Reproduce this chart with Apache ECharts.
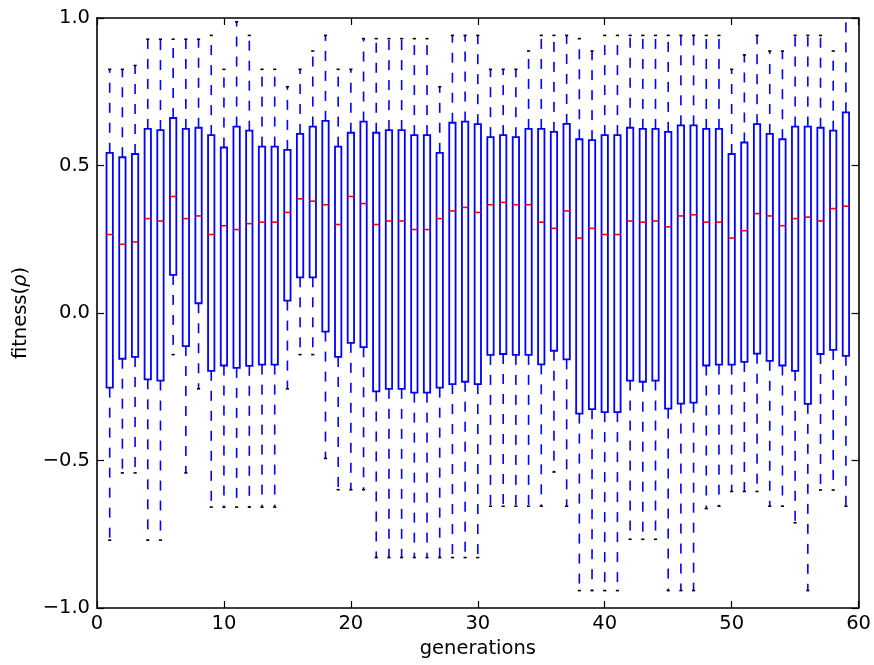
<!DOCTYPE html>
<html>
<head>
<meta charset="utf-8">
<script src="https://cdn.jsdelivr.net/npm/echarts@6/dist/echarts.min.js"></script>
<style>
  html, body { margin: 0; padding: 0; background: #ffffff; }
  #chart { width: 874px; height: 665px; }
</style>
</head>
<body>
<div id="chart"></div>
<script>
// Fitness distribution per generation: whisker ends, quartiles and median.
const generations = [
  1, 2, 3, 4, 5, 6, 7, 8, 9, 10,
  11, 12, 13, 14, 15, 16, 17, 18, 19, 20,
  21, 22, 23, 24, 25, 26, 27, 28, 29, 30,
  31, 32, 33, 34, 35, 36, 37, 38, 39, 40,
  41, 42, 43, 44, 45, 46, 47, 48, 49, 50,
  51, 52, 53, 54, 55, 56, 57, 58, 59
];
const whiskerHigh = [
  0.826, 0.826, 0.839, 0.928, 0.928, 0.928, 0.928, 0.928, 0.941, 0.826,
  0.987, 0.941, 0.826, 0.826, 0.767, 0.826, 0.888, 0.941, 0.826, 0.826,
  0.930, 0.930, 0.930, 0.930, 0.930, 0.930, 0.767, 0.941, 0.941, 0.941,
  0.826, 0.826, 0.826, 0.888, 0.941, 0.941, 0.941, 0.930, 0.888, 0.941,
  0.941, 0.941, 0.941, 0.941, 0.941, 0.941, 0.941, 0.941, 0.941, 0.826,
  0.875, 0.941, 0.888, 0.888, 0.941, 0.941, 0.941, 0.888, 1.05
];
const upperQuartile = [
  0.543, 0.528, 0.539, 0.624, 0.620, 0.661, 0.624, 0.628, 0.603, 0.561,
  0.632, 0.618, 0.564, 0.564, 0.553, 0.607, 0.632, 0.651, 0.564, 0.611,
  0.649, 0.611, 0.620, 0.620, 0.603, 0.603, 0.543, 0.645, 0.649, 0.640,
  0.596, 0.603, 0.596, 0.624, 0.624, 0.614, 0.641, 0.589, 0.586, 0.603,
  0.603, 0.628, 0.624, 0.624, 0.614, 0.636, 0.636, 0.624, 0.624, 0.539,
  0.578, 0.640, 0.607, 0.589, 0.632, 0.632, 0.628, 0.618, 0.680
];
const median = [
  0.266, 0.233, 0.241, 0.320, 0.312, 0.395, 0.320, 0.329, 0.266, 0.296,
  0.283, 0.303, 0.308, 0.308, 0.341, 0.387, 0.379, 0.367, 0.300, 0.395,
  0.371, 0.300, 0.312, 0.312, 0.283, 0.283, 0.320, 0.346, 0.358, 0.341,
  0.367, 0.375, 0.367, 0.367, 0.308, 0.287, 0.346, 0.254, 0.287, 0.266,
  0.266, 0.312, 0.308, 0.312, 0.292, 0.329, 0.333, 0.308, 0.308, 0.254,
  0.279, 0.337, 0.329, 0.296, 0.320, 0.325, 0.312, 0.354, 0.362
];
const lowerQuartile = [
  -0.253, -0.155, -0.149, -0.225, -0.229, 0.129, -0.112, 0.033, -0.196, -0.178,
  -0.186, -0.179, -0.175, -0.175, 0.042, 0.121, 0.121, -0.063, -0.149, -0.101,
  -0.116, -0.266, -0.257, -0.257, -0.270, -0.270, -0.253, -0.241, -0.233, -0.241,
  -0.142, -0.139, -0.142, -0.142, -0.174, -0.128, -0.157, -0.341, -0.326, -0.336,
  -0.336, -0.229, -0.233, -0.229, -0.324, -0.307, -0.304, -0.178, -0.175, -0.175,
  -0.166, -0.138, -0.162, -0.178, -0.196, -0.308, -0.139, -0.125, -0.145
];
const whiskerLow = [
  -0.770, -0.542, -0.542, -0.770, -0.770, -0.141, -0.542, -0.257, -0.658, -0.658,
  -0.658, -0.658, -0.658, -0.658, -0.257, -0.141, -0.141, -0.493, -0.599, -0.599,
  -0.599, -0.829, -0.829, -0.829, -0.829, -0.829, -0.829, -0.829, -0.829, -0.829,
  -0.655, -0.655, -0.655, -0.655, -0.655, -0.539, -0.655, -0.941, -0.941, -0.941,
  -0.941, -0.767, -0.767, -0.767, -0.941, -0.941, -0.941, -0.663, -0.655, -0.605,
  -0.605, -0.605, -0.655, -0.655, -0.711, -0.941, -0.600, -0.600, -0.655
];
const xTicks = [0, 10, 20, 30, 40, 50, 60];
const yTicks = [-1.0, -0.5, 0.0, 0.5, 1.0];

const FONT = 'DejaVu Sans';
const LABEL_SIZE = 19.5;

const rows = generations.map((g, i) => [
  g, whiskerHigh[i], upperQuartile[i], median[i], lowerQuartile[i], whiskerLow[i]
]);

function fmtY(v) {
  return (v < 0 ? '\u2212' : '') + Math.abs(v).toFixed(1);
}

function renderBox(params, api) {
  const x = api.value(0);
  const hi = api.coord([x, api.value(1)]);
  const q3 = api.coord([x, api.value(2)]);
  const md = api.coord([x, api.value(3)]);
  const q1 = api.coord([x, api.value(4)]);
  const lo = api.coord([x, api.value(5)]);
  const boxHalf = api.size([0.5, 0])[0] / 2;
  const capHalf = api.size([0.25, 0])[0] / 2;
  const cx = q3[0];
  const whiskerStyle = { stroke: '#0000ff', lineWidth: 1.6, lineDash: [10, 10], fill: null };
  const capStyle = { stroke: '#000000', lineWidth: 1.6 };
  return {
    type: 'group',
    children: [
      { type: 'line', shape: { x1: cx, y1: q1[1], x2: cx, y2: lo[1] }, style: whiskerStyle },
      { type: 'line', shape: { x1: cx, y1: q3[1], x2: cx, y2: hi[1] }, style: whiskerStyle },
      { type: 'line', shape: { x1: cx - capHalf, y1: lo[1], x2: cx + capHalf, y2: lo[1] }, style: capStyle },
      { type: 'line', shape: { x1: cx - capHalf, y1: hi[1], x2: cx + capHalf, y2: hi[1] }, style: capStyle },
      {
        type: 'rect',
        shape: { x: cx - boxHalf, y: q3[1], width: boxHalf * 2, height: q1[1] - q3[1] },
        style: { stroke: '#0000ff', lineWidth: 1.8, fill: null }
      },
      { type: 'line', shape: { x1: cx - boxHalf, y1: md[1], x2: cx + boxHalf, y2: md[1] }, style: { stroke: '#ff0000', lineWidth: 1.6 } }
    ]
  };
}

const frameLine = { show: true, onZero: false, lineStyle: { color: '#000000', width: 1.6 } };
const innerTick = { show: true, inside: true, length: 7, lineStyle: { color: '#000000', width: 1.2 } };

const chart = echarts.init(document.getElementById('chart'), null, { renderer: 'canvas' });
chart.setOption({
  animation: false,
  backgroundColor: '#ffffff',
  grid: { left: 97, right: 14, top: 18, bottom: 57 },
  xAxis: [
    {
      type: 'value', min: xTicks[0], max: xTicks[xTicks.length - 1], interval: 10,
      position: 'bottom',
      axisLine: frameLine, axisTick: innerTick, splitLine: { show: false },
      axisLabel: { show: true, margin: 6, color: '#000000', fontFamily: FONT, fontSize: LABEL_SIZE,
                   formatter: v => String(v) },
      name: 'generations', nameLocation: 'middle', nameGap: 28,
      nameTextStyle: { color: '#000000', fontFamily: FONT, fontSize: LABEL_SIZE }
    },
    {
      type: 'value', min: xTicks[0], max: xTicks[xTicks.length - 1], interval: 10,
      position: 'top',
      axisLine: frameLine, axisTick: innerTick, splitLine: { show: false },
      axisLabel: { show: false }
    }
  ],
  yAxis: [
    {
      type: 'value', min: yTicks[0], max: yTicks[yTicks.length - 1], interval: 0.5,
      position: 'left',
      axisLine: frameLine, axisTick: innerTick, splitLine: { show: false },
      axisLabel: { show: true, margin: 7, color: '#000000', fontFamily: FONT, fontSize: LABEL_SIZE,
                   formatter: fmtY },
      name: 'fitness({i|\u03c1})', nameLocation: 'middle', nameRotate: 90, nameGap: 66,
      nameTextStyle: {
        color: '#000000', fontFamily: FONT, fontSize: LABEL_SIZE,
        rich: { i: { fontFamily: FONT, fontSize: LABEL_SIZE, fontStyle: 'italic', color: '#000000' } }
      }
    },
    {
      type: 'value', min: yTicks[0], max: yTicks[yTicks.length - 1], interval: 0.5,
      position: 'right',
      axisLine: frameLine, axisTick: innerTick, splitLine: { show: false },
      axisLabel: { show: false }
    }
  ],
  series: [
    {
      type: 'custom',
      xAxisIndex: 0,
      yAxisIndex: 0,
      clip: true,
      renderItem: renderBox,
      encode: { x: 0, y: [1, 2, 3, 4, 5] },
      data: rows
    }
  ]
});
</script>
</body>
</html>
